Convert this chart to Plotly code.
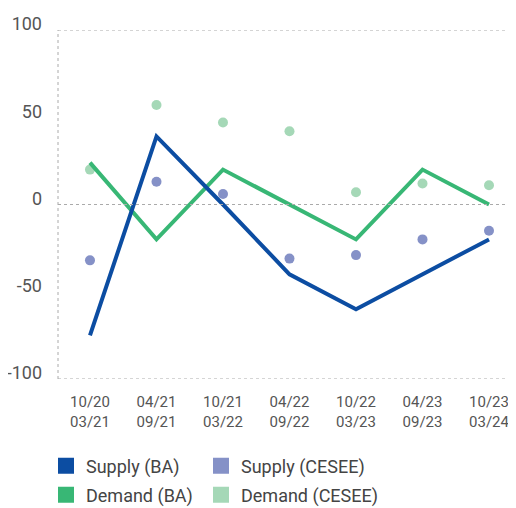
import plotly.graph_objects as go

# Données
periodes = ['10/20<br>03/21', '04/21<br>09/21', '10/21<br>03/22', '04/22<br>09/22',
            '10/22<br>03/23', '04/23<br>09/23', '10/23<br>03/24']
supply_ba = [-75, 39, 0, -40, -60, -40, -20]
demand_ba = [24, -20, 20, 0, -20, 20, 0]
supply_cesee = [-32, 13, 6, -31, -29, -20, -15]
demand_cesee = [20, 57, 47, 42, 7, 12, 11]
y_ticks = [-100, -50, 0, 50, 100]
y_labels = ['-100', '-50', '0', '50', '100']
grid_vals = [-100, 0, 100]

c_supply_ba = '#0c4da2'
c_demand_ba = '#38b775'
c_supply_cesee = '#8591c7'
c_demand_cesee = '#a5d8b7'

police = 'Roboto, sans-serif'

# La page ajoute une marge de 8px autour du graphique : on réduit la figure d'autant
W, H = 508, 500

fig = go.Figure()

# Séries (points / lignes)
fig.add_trace(go.Scatter(x=periodes, y=supply_cesee, mode='markers',
                         marker=dict(color=c_supply_cesee, size=10), showlegend=False))
fig.add_trace(go.Scatter(x=periodes, y=demand_cesee, mode='markers',
                         marker=dict(color=c_demand_cesee, size=10), showlegend=False))
fig.add_trace(go.Scatter(x=periodes, y=demand_ba, mode='lines',
                         line=dict(color=c_demand_ba, width=4), showlegend=False))
fig.add_trace(go.Scatter(x=periodes, y=supply_ba, mode='lines',
                         line=dict(color=c_supply_ba, width=4), showlegend=False))

# Légende avec carrés : une légende par entrée (2 colonnes x 2 lignes)
entrees = [('Supply (BA)', c_supply_ba, 'legend'),
           ('Supply (CESEE)', c_supply_cesee, 'legend2'),
           ('Demand (BA)', c_demand_ba, 'legend3'),
           ('Demand (CESEE)', c_demand_cesee, 'legend4')]
for nom, couleur, leg in entrees:
    fig.add_trace(go.Scatter(x=[None], y=[None], mode='markers', name=nom, legend=leg,
                             marker=dict(color=couleur, size=16, symbol='square')))

# Lignes de grille pointillées
for v in grid_vals:
    fig.add_shape(type='line', xref='paper', yref='y', x0=0, x1=1, y0=v, y1=v,
                  line=dict(color='#aaaaaa', width=1, dash='dot'))
fig.add_shape(type='line', xref='paper', yref='y', x0=0, x1=0, y0=-100, y1=100,
              line=dict(color='#aaaaaa', width=1, dash='dot'))

leg_style = dict(orientation='h', xref='container', yref='container',
                 xanchor='left', yanchor='middle',
                 font=dict(size=18, color='#444444'), bgcolor='rgba(0,0,0,0)')
col1, col2 = 38 / W, 193 / W
row1, row2 = 1 - 458 / H, 1 - 487 / H

fig.update_layout(
    width=W, height=H,
    margin=dict(l=50, r=0, t=22, b=129),
    plot_bgcolor='white', paper_bgcolor='white',
    font=dict(family=police, color='#555555', size=17),
    legend=dict(x=col1, y=row1, **leg_style),
    legend2=dict(x=col2, y=row1, **leg_style),
    legend3=dict(x=col1, y=row2, **leg_style),
    legend4=dict(x=col2, y=row2, **leg_style),
)
fig.update_xaxes(type='category', range=[-0.481, 6.406], showgrid=False, zeroline=False,
                 showline=False, tickfont=dict(size=15), ticks='', ticklabelstandoff=12,
                 automargin=False)
fig.update_yaxes(range=[-100, 100], tickvals=y_ticks, ticktext=y_labels, showgrid=False,
                 zeroline=False, showline=False, tickfont=dict(size=18), ticklabelshift=-6,
                 ticklabelstandoff=15, automargin=False)

fig.write_html('out.html')
print('out.html généré avec succès !')
